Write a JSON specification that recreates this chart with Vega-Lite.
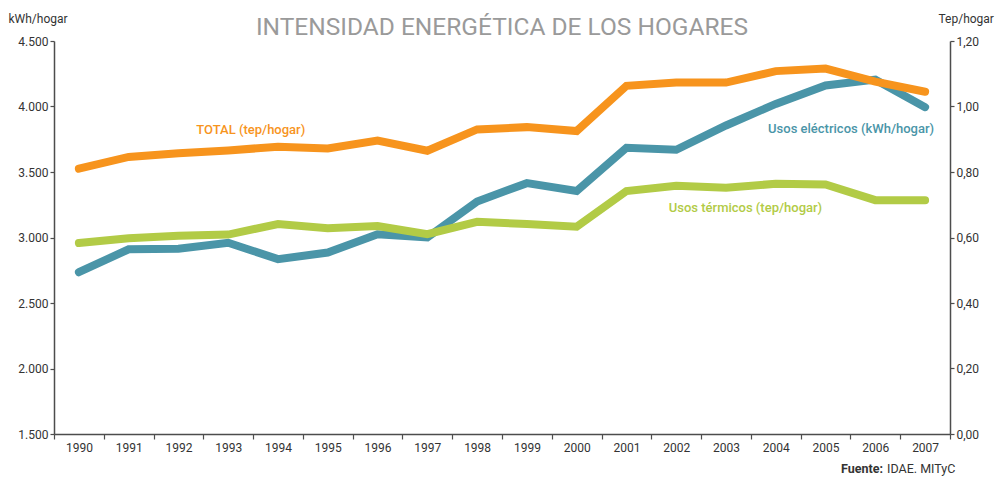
{
  "$schema": "https://vega.github.io/schema/vega-lite/v6.json",
  "width": 896,
  "height": 393,
  "autosize": {"type": "none"},
  "padding": {"left": 54, "top": 41, "right": 48, "bottom": 45},
  "background": "white",
  "title": {"text": "INTENSIDAD ENERGÉTICA DE LOS HOGARES", "fontSize": 24.5, "color": "#9a9a9a", "fontWeight": "normal", "font": "Roboto", "anchor": "middle", "offset": 6, "dy": 34},
  "config": {
    "view": {"stroke": null},
    "font": "Roboto",
    "locale": {"number": {"decimal": ",", "thousands": ".", "grouping": [3], "currency": ["", " €"]}},
    "axis": {"domainColor": "#4d4d4d", "domainWidth": 1.5, "tickColor": "#4d4d4d", "tickWidth": 1.2, "labelColor": "#333333", "labelFontSize": 12, "labelFont": "Roboto", "titleFont": "Roboto", "titleFontSize": 12, "titleFontWeight": "normal", "titleColor": "#333333", "grid": false}
  },
  "datasets": {
    "series": [
      {"s": "elec", "year": "1990", "value": 2735}, {"s": "elec", "year": "1991", "value": 2910}, {"s": "elec", "year": "1992", "value": 2915}, {"s": "elec", "year": "1993", "value": 2960}, {"s": "elec", "year": "1994", "value": 2835}, {"s": "elec", "year": "1995", "value": 2885}, {"s": "elec", "year": "1996", "value": 3025}, {"s": "elec", "year": "1997", "value": 3000}, {"s": "elec", "year": "1998", "value": 3275}, {"s": "elec", "year": "1999", "value": 3415}, {"s": "elec", "year": "2000", "value": 3355}, {"s": "elec", "year": "2001", "value": 3685}, {"s": "elec", "year": "2002", "value": 3670}, {"s": "elec", "year": "2003", "value": 3855}, {"s": "elec", "year": "2004", "value": 4020}, {"s": "elec", "year": "2005", "value": 4160}, {"s": "elec", "year": "2006", "value": 4205}, {"s": "elec", "year": "2007", "value": 3995},
      {"s": "total", "year": "1990", "value": 0.81}, {"s": "total", "year": "1991", "value": 0.846}, {"s": "total", "year": "1992", "value": 0.857}, {"s": "total", "year": "1993", "value": 0.866}, {"s": "total", "year": "1994", "value": 0.877}, {"s": "total", "year": "1995", "value": 0.872}, {"s": "total", "year": "1996", "value": 0.896}, {"s": "total", "year": "1997", "value": 0.865}, {"s": "total", "year": "1998", "value": 0.93}, {"s": "total", "year": "1999", "value": 0.937}, {"s": "total", "year": "2000", "value": 0.925}, {"s": "total", "year": "2001", "value": 1.063}, {"s": "total", "year": "2002", "value": 1.073}, {"s": "total", "year": "2003", "value": 1.073}, {"s": "total", "year": "2004", "value": 1.108}, {"s": "total", "year": "2005", "value": 1.116}, {"s": "total", "year": "2006", "value": 1.076}, {"s": "total", "year": "2007", "value": 1.045},
      {"s": "term", "year": "1990", "value": 0.583}, {"s": "term", "year": "1991", "value": 0.598}, {"s": "term", "year": "1992", "value": 0.605}, {"s": "term", "year": "1993", "value": 0.609}, {"s": "term", "year": "1994", "value": 0.641}, {"s": "term", "year": "1995", "value": 0.628}, {"s": "term", "year": "1996", "value": 0.635}, {"s": "term", "year": "1997", "value": 0.61}, {"s": "term", "year": "1998", "value": 0.648}, {"s": "term", "year": "1999", "value": 0.641}, {"s": "term", "year": "2000", "value": 0.633}, {"s": "term", "year": "2001", "value": 0.742}, {"s": "term", "year": "2002", "value": 0.758}, {"s": "term", "year": "2003", "value": 0.752}, {"s": "term", "year": "2004", "value": 0.764}, {"s": "term", "year": "2005", "value": 0.762}, {"s": "term", "year": "2006", "value": 0.714}, {"s": "term", "year": "2007", "value": 0.714}
    ],
    "labels": [
      {"s": "elec", "year": "2007", "value": 3830, "text": "Usos eléctricos (kWh/hogar)"},
      {"s": "total", "year": "1993", "value": 0.928, "text": "TOTAL (tep/hogar)"},
      {"s": "term", "year": "2002", "value": 0.69, "text": "Usos térmicos (tep/hogar)"},
      {"s": "src1", "year": "2006", "value": -0.107, "text": "Fuente:"},
      {"s": "src2", "year": "2006", "value": -0.107, "text": "IDAE. MITyC"}
    ]
  },
  "encoding": {
    "x": {"field": "year", "type": "ordinal", "scale": {"type": "band", "paddingInner": 0, "paddingOuter": 0},
      "axis": {"title": null, "labelAngle": 0, "tickBand": "extent", "tickSize": 5, "labelPadding": 3}}
  },
  "layer": [
    {
      "encoding": {"y": {"field": "value", "type": "quantitative", "scale": {"domain": [1500, 4500], "nice": false, "zero": false},
        "axis": {"orient": "left", "values": [1500, 2000, 2500, 3000, 3500, 4000, 4500], "format": ",.0f", "tickSize": 4, "labelPadding": 2, "title": "kWh/hogar", "titleAngle": 0, "titleAlign": "left", "titleBaseline": "alphabetic", "titleX": -46, "titleY": -19}}},
      "layer": [
        {"data": {"name": "series"}, "transform": [{"filter": "datum.s === 'elec'"}],
          "mark": {"type": "line", "color": "#4A95A8", "strokeWidth": 8, "strokeCap": "round"}},
        {"data": {"name": "labels"}, "transform": [{"filter": "datum.s === 'elec'"}],
          "mark": {"type": "text", "color": "#4A95A8", "align": "right", "baseline": "middle", "fontSize": 13, "fontWeight": 500},
          "encoding": {"x": {"field": "year", "type": "ordinal", "bandPosition": 0.68}, "text": {"field": "text"}}}
      ]
    },
    {
      "encoding": {"y": {"field": "value", "type": "quantitative", "scale": {"domain": [0, 1.2], "nice": false},
        "axis": {"orient": "right", "values": [0, 0.2, 0.4, 0.6, 0.8, 1.0, 1.2], "format": ".2f", "tickSize": 4, "labelPadding": 2, "title": "Tep/hogar", "titleAngle": 0, "titleAlign": "left", "titleBaseline": "alphabetic", "titleX": -12, "titleY": -19}}},
      "layer": [
        {"data": {"name": "series"}, "transform": [{"filter": "datum.s === 'term'"}],
          "mark": {"type": "line", "color": "#B2CB46", "strokeWidth": 8, "strokeCap": "round"}},
        {"data": {"name": "series"}, "transform": [{"filter": "datum.s === 'total'"}],
          "mark": {"type": "line", "color": "#F7941D", "strokeWidth": 8, "strokeCap": "round"}},
        {"data": {"name": "labels"}, "transform": [{"filter": "datum.s === 'total'"}],
          "mark": {"type": "text", "color": "#F7941D", "align": "left", "baseline": "middle", "fontSize": 13, "fontWeight": 500},
          "encoding": {"x": {"field": "year", "type": "ordinal", "bandPosition": -0.14}, "text": {"field": "text"}}},
        {"data": {"name": "labels"}, "transform": [{"filter": "datum.s === 'term'"}],
          "mark": {"type": "text", "color": "#B2CB46", "align": "left", "baseline": "middle", "fontSize": 13, "fontWeight": 500},
          "encoding": {"x": {"field": "year", "type": "ordinal", "bandPosition": 0.35}, "text": {"field": "text"}}},
        {"data": {"name": "labels"}, "transform": [{"filter": "datum.s === 'src1'"}],
          "mark": {"type": "text", "color": "#333333", "align": "right", "baseline": "middle", "fontSize": 12.5, "fontWeight": "bold"},
          "encoding": {"x": {"field": "year", "type": "ordinal", "bandPosition": 0.655}, "text": {"field": "text"}}},
        {"data": {"name": "labels"}, "transform": [{"filter": "datum.s === 'src2'"}],
          "mark": {"type": "text", "color": "#333333", "align": "left", "baseline": "middle", "fontSize": 12.5},
          "encoding": {"x": {"field": "year", "type": "ordinal", "bandPosition": 0.735}, "text": {"field": "text"}}}
      ]
    }
  ],
  "resolve": {"scale": {"y": "independent"}, "axis": {"y": "independent"}}
}
